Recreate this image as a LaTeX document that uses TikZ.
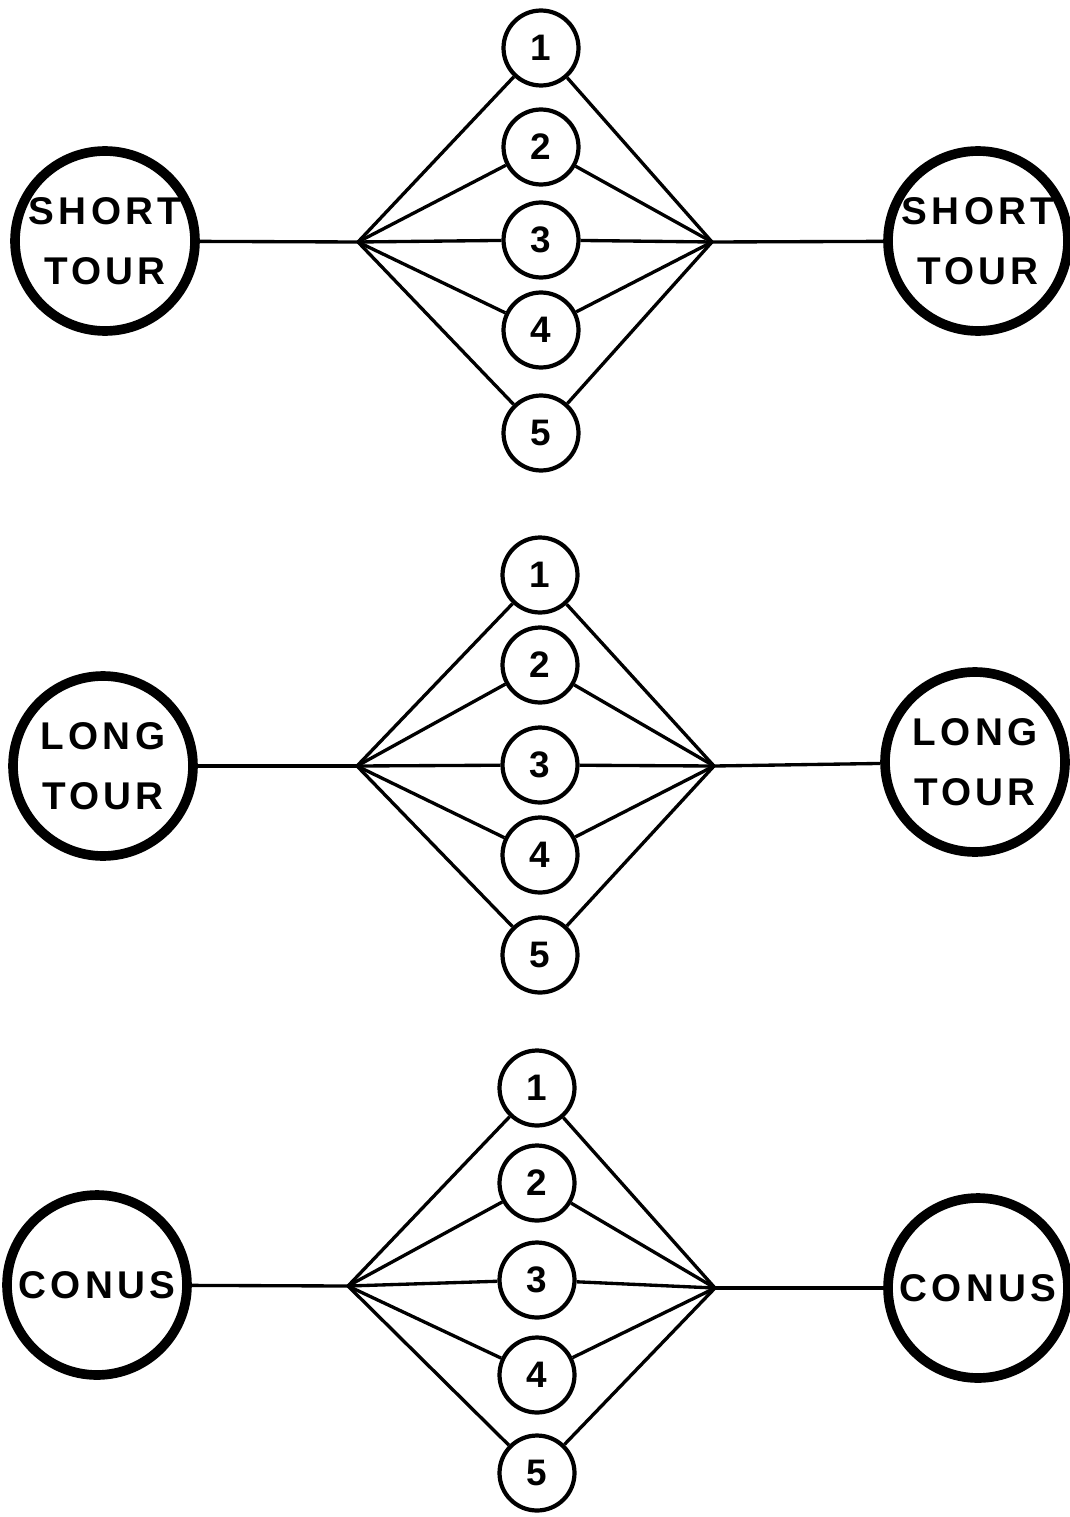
\documentclass[tikz,border=0pt]{standalone}
\usepackage{fontspec}
\setmainfont{Liberation Sans}
\usepackage{tikz}
\usetikzlibrary{positioning}
\tikzset{
  big/.style   = {draw, circle, line width=5.5pt, minimum size=3.6cm,
                  inner sep=0pt, align=center,
                  font=\fontsize{22}{34}\selectfont\bfseries\addfontfeature{LetterSpace=11}},
  small/.style = {draw, circle, line width=2.4pt, minimum size=1.5cm,
                  inner sep=0pt, font=\fontsize{21}{24}\selectfont\bfseries},
  link/.style  = {line width=1.9pt}
}
\begin{document}
\begin{tikzpicture}[x=0.02cm, y=-0.02cm]
\useasboundingbox (0,0) rectangle (1069,1517);

% short tour
\node[big] (sL) at (105,241) {SHORT\\TOUR};
\node[big] (sR) at (978,241) {SHORT\\TOUR};
\coordinate (sA) at (358,242);
\coordinate (sB) at (712,242);
\node[small] (s1) at (541,48)  {1};
\node[small] (s2) at (541,147) {2};
\node[small] (s3) at (541,240) {3};
\node[small] (s4) at (541,330) {4};
\node[small] (s5) at (541,433) {5};
\draw[link] (sL) -- (sA);
\draw[link] (sB) -- (sR);
\foreach \i in {1,...,5} {
  \draw[link] (sA) -- (s\i);
  \draw[link] (s\i) -- (sB);
}

% long tour
\node[big] (lL) at (103,766) {LONG\\TOUR};
\node[big] (lR) at (975,762) {LONG\\TOUR};
\coordinate (lA) at (357,766);
\coordinate (lB) at (714,766);
\node[small] (l1) at (540,575) {1};
\node[small] (l2) at (540,665) {2};
\node[small] (l3) at (540,765) {3};
\node[small] (l4) at (540,855) {4};
\node[small] (l5) at (540,955) {5};
\draw[link] (lL) -- (lA);
\draw[link] (lB) -- (lR);
\foreach \i in {1,...,5} {
  \draw[link] (lA) -- (l\i);
  \draw[link] (l\i) -- (lB);
}

% conus
\node[big] (cL) at (97,1285) {CONUS};
\node[big] (cR) at (978,1288) {CONUS};
\coordinate (cA) at (348,1286);
\coordinate (cB) at (715,1288);
\node[small] (c1) at (537,1088) {1};
\node[small] (c2) at (537,1183) {2};
\node[small] (c3) at (537,1280) {3};
\node[small] (c4) at (537,1375) {4};
\node[small] (c5) at (537,1473) {5};
\draw[link] (cL) -- (cA);
\draw[link] (cB) -- (cR);
\foreach \i in {1,...,5} {
  \draw[link] (cA) -- (c\i);
  \draw[link] (c\i) -- (cB);
}
\end{tikzpicture}
\end{document}
